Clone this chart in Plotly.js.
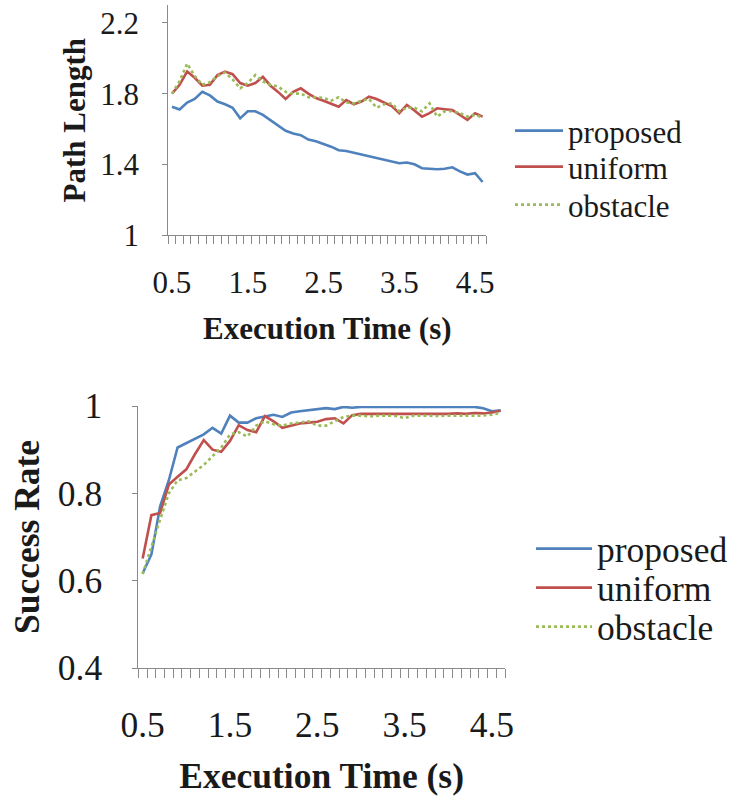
<!DOCTYPE html>
<html>
<head>
<meta charset="utf-8">
<script src="https://cdn.plot.ly/plotly-3.0.1.min.js"></script>
<style>html,body{margin:0;padding:0;background:#fff;}#chart{width:734px;height:803px;}</style>
</head>
<body>
<div id="chart"></div>
<script>
// ---- data ----
const execTime = [0.5,0.6,0.7,0.8,0.9,1.0,1.1,1.2,1.3,1.4,1.5,1.6,1.7,1.8,1.9,2.0,2.1,2.2,2.3,2.4,2.5,2.6,2.7,2.8,2.9,3.0,3.1,3.2,3.3,3.4,3.5,3.6,3.7,3.8,3.9,4.0,4.1,4.2,4.3,4.4,4.5,4.6];
const seriesNames = ['proposed','uniform','obstacle'];

const pathProposed = [1.726,1.71,1.75,1.77,1.81,1.79,1.755,1.74,1.72,1.66,1.70,1.70,1.68,1.65,1.615,1.59,1.575,1.565,1.54,1.53,1.515,1.50,1.48,1.475,1.465,1.455,1.447,1.435,1.425,1.415,1.406,1.41,1.40,1.378,1.375,1.372,1.375,1.383,1.36,1.342,1.35,1.30];
const pathUniform  = [1.80,1.85,1.925,1.89,1.845,1.85,1.905,1.925,1.91,1.86,1.845,1.86,1.895,1.845,1.81,1.77,1.81,1.83,1.80,1.775,1.76,1.745,1.726,1.764,1.74,1.755,1.783,1.77,1.75,1.73,1.69,1.736,1.705,1.67,1.69,1.717,1.712,1.707,1.68,1.651,1.689,1.67];
const pathObstacle = [1.80,1.87,1.97,1.90,1.85,1.865,1.90,1.92,1.88,1.83,1.86,1.905,1.87,1.85,1.84,1.81,1.80,1.80,1.78,1.78,1.775,1.76,1.78,1.75,1.745,1.76,1.77,1.72,1.74,1.745,1.70,1.72,1.72,1.70,1.745,1.67,1.70,1.70,1.69,1.67,1.68,1.665];

const successProposed = [0.617,0.66,0.77,0.83,0.905,0.915,0.925,0.935,0.95,0.937,0.978,0.962,0.962,0.972,0.976,0.98,0.975,0.985,0.988,0.99,0.992,0.995,0.993,0.998,0.996,0.998,0.998,0.998,0.998,0.998,0.998,0.998,0.998,0.998,0.998,0.998,0.998,0.998,0.998,0.995,0.988,0.99];
const successUniform  = [0.651,0.75,0.755,0.82,0.838,0.855,0.89,0.922,0.90,0.895,0.92,0.956,0.945,0.94,0.977,0.965,0.95,0.955,0.96,0.962,0.964,0.97,0.972,0.96,0.979,0.982,0.982,0.982,0.982,0.982,0.982,0.982,0.982,0.981,0.982,0.982,0.983,0.982,0.984,0.983,0.985,0.989];
const successObstacle = [0.615,0.68,0.74,0.80,0.83,0.835,0.85,0.865,0.885,0.905,0.935,0.94,0.93,0.955,0.965,0.958,0.955,0.96,0.962,0.965,0.955,0.955,0.965,0.975,0.978,0.978,0.976,0.978,0.978,0.977,0.972,0.978,0.978,0.977,0.977,0.978,0.978,0.977,0.978,0.978,0.98,0.985];

const xLabelStep = 10;   // label every 10th category: 0.5, 1.5, 2.5, 3.5, 4.5
const pathTickVals = [1,1.4,1.8,2.2];
const pathTickText = ['1','1.4','1.8','2.2'];
const successTickVals = [0.4,0.6,0.8,1];
const successTickText = ['0.4','0.6','0.8','1'];

// derived: category names and the labelled category positions
const xCats = execTime.map(v => v.toFixed(1));
const xLabelIdx = xCats.map((c, i) => i).filter(i => i % xLabelStep === 0);
const xLabelText = xLabelIdx.map(i => xCats[i]);
const XRANGE = [-0.5, xCats.length - 0.5];

// ---- styling ----
const W = 734, H = 803;
const px = v => v / W;
const py = v => 1 - v / H;
const FONT = 'Liberation Serif, Times New Roman, Times, serif';
const TXT = '#1a1a1a';
const AXC = '#8a8a8a';
const colors = ['#4F81BD', '#C0504D', '#9BBB59'];
const dashes = ['solid', 'solid', 'dot'];

function mkTrace(y, k, xa, ya, legendId) {
  return {
    type: 'scatter', mode: 'lines', x: xCats, y: y, name: seriesNames[k],
    xaxis: xa, yaxis: ya, legend: legendId,
    line: {color: colors[k], width: 2.6, dash: dashes[k]}
  };
}
// empty helper trace so the overlay label axis is drawn
function anchorTrace(xa, ya) {
  return {type: 'scatter', mode: 'lines', x: [], y: [], xaxis: xa, yaxis: ya,
          showlegend: false, hoverinfo: 'skip'};
}

const traces = [
  mkTrace(pathProposed, 0, 'x', 'y', 'legend'),
  mkTrace(pathUniform, 1, 'x', 'y', 'legend2'),
  mkTrace(pathObstacle, 2, 'x', 'y', 'legend3'),
  mkTrace(successProposed, 0, 'x2', 'y2', 'legend4'),
  mkTrace(successUniform, 1, 'x2', 'y2', 'legend5'),
  mkTrace(successObstacle, 2, 'x2', 'y2', 'legend6'),
  anchorTrace('x3', 'y'),
  anchorTrace('x4', 'y2')
];

// category axis: tick marks on category boundaries, no labels
function xTickAxis(dom, anchor, tlen) {
  return {
    type: 'category', domain: dom, anchor: anchor, range: XRANGE,
    tickmode: 'linear', tick0: 0, dtick: 1, tickson: 'boundaries',
    ticks: 'outside', ticklen: tlen, tickwidth: 1, tickcolor: AXC,
    showticklabels: false, showline: true, linecolor: AXC, linewidth: 1,
    showgrid: false, zeroline: false, automargin: false
  };
}
// overlay axis: labels + title (its own tick marks are transparent spacers)
function xLabelAxis(over, anchor, fs, pad, standoff) {
  return {
    overlaying: over, anchor: anchor, side: 'bottom', range: XRANGE,
    tickmode: 'array', tickvals: xLabelIdx, ticktext: xLabelText, tickangle: 0,
    ticks: 'outside', ticklen: pad, tickcolor: 'rgba(0,0,0,0)',
    showline: false, showgrid: false, zeroline: false, automargin: false,
    tickfont: {family: FONT, size: fs, color: TXT},
    title: {text: '<b>Execution Time (s)</b>', standoff: standoff,
            font: {family: FONT, size: fs, color: TXT}}
  };
}
function yAxis(dom, anchor, range, tv, tt, fs, title, standoff, labStand) {
  return {
    domain: dom, anchor: anchor, range: range,
    tickmode: 'array', tickvals: tv, ticktext: tt,
    ticks: 'outside', ticklen: 5, tickwidth: 1, tickcolor: AXC,
    showline: true, linecolor: AXC, linewidth: 1,
    showgrid: false, zeroline: false, automargin: false,
    ticklabelstandoff: labStand,
    tickfont: {family: FONT, size: fs, color: TXT},
    title: {text: '<b>' + title + '</b>', standoff: standoff,
            font: {family: FONT, size: fs, color: TXT}}
  };
}
function legendAt(xp, yp, fs, iw) {
  return {x: px(xp), y: py(yp), xanchor: 'left', yanchor: 'middle',
          bgcolor: 'rgba(0,0,0,0)', borderwidth: 0,
          font: {family: FONT, size: fs, color: TXT}, itemwidth: iw};
}

const layout = {
  width: W, height: H,
  margin: {l: 0, r: 0, t: 0, b: 0, autoexpand: false},
  paper_bgcolor: '#ffffff', plot_bgcolor: '#ffffff',
  showlegend: true,
  font: {family: FONT, color: TXT},
  xaxis: xTickAxis([px(168.2), px(486.4)], 'y', 8),
  xaxis3: xLabelAxis('x', 'y', 31, 20, 18),
  yaxis: yAxis([py(235), py(5.3)], 'x', [1, 2.3], pathTickVals, pathTickText, 31, 'Path Length', 5, 17),
  xaxis2: xTickAxis([px(138.3), px(505)], 'y2', 9),
  xaxis4: xLabelAxis('x2', 'y2', 35.5, 25, 19),
  yaxis2: yAxis([py(668), py(406)], 'x2', [0.4, 1.0], successTickVals, successTickText, 35.5, 'Success Rate', 7, 23),
  legend: legendAt(510, 131, 31, 48),
  legend2: legendAt(510, 167, 31, 48),
  legend3: legendAt(510, 205, 31, 48),
  legend4: legendAt(531, 549, 35.5, 56),
  legend5: legendAt(531, 588, 35.5, 56),
  legend6: legendAt(531, 627, 35.5, 56)
};

Plotly.newPlot('chart', traces, layout, {staticPlot: true, displayModeBar: false});
</script>
</body>
</html>
